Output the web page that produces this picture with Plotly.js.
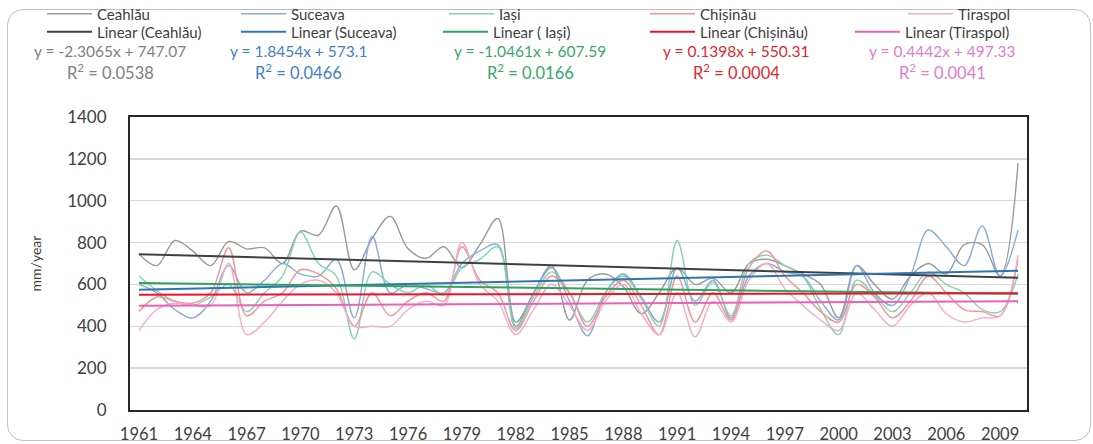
<!DOCTYPE html>
<html>
<head>
<meta charset="utf-8">
<script src="https://cdn.plot.ly/plotly-3.0.1.min.js"></script>
<style>
html,body{margin:0;padding:0;background:#fff;}
#frame{position:absolute;left:7px;top:9px;width:1084px;height:432px;box-sizing:border-box;border:1px solid #bfbfbf;border-radius:16px;}
#chart{position:absolute;left:0;top:0;width:1093px;height:444px;}
</style>
</head>
<body>
<div id="frame"></div>
<div id="chart"></div>
<script>
// ---- data ----
const years = [1961,1962,1963,1964,1965,1966,1967,1968,1969,1970,1971,1972,1973,1974,1975,1976,1977,1978,1979,1980,1981,1982,1983,1984,1985,1986,1987,1988,1989,1990,1991,1992,1993,1994,1995,1996,1997,1998,1999,2000,2001,2002,2003,2004,2005,2006,2007,2008,2009,2010];
const tickYears = [1961,1964,1967,1970,1973,1976,1979,1982,1985,1988,1991,1994,1997,2000,2003,2006,2009];

const ceahlau = [745,690,810,760,690,805,770,775,700,855,835,975,670,820,925,770,725,780,680,790,915,420,560,690,430,620,650,590,460,560,680,600,630,560,700,720,690,650,600,440,690,600,530,640,700,650,790,790,640,1180];
const suceava = [600,560,480,440,520,690,560,620,700,650,640,720,440,830,560,600,580,560,700,760,790,400,560,680,520,355,560,650,540,420,680,520,620,440,640,700,660,640,520,430,690,560,500,640,860,780,690,880,640,860];
const iasi    = [640,570,520,500,540,600,470,560,640,850,700,640,340,660,600,560,600,550,680,720,780,390,540,660,560,420,560,640,530,400,810,500,610,450,700,740,690,640,480,360,620,550,470,560,660,600,560,480,470,650];
const chisinau= [470,540,520,510,560,775,450,520,560,670,650,580,400,560,450,520,560,520,780,620,560,380,520,640,560,400,540,620,500,360,640,420,560,430,680,760,640,560,470,420,600,540,440,520,640,560,480,470,450,720];
const tiraspol= [380,480,510,500,500,700,360,420,520,600,620,560,400,400,400,480,520,500,800,600,520,360,480,600,500,380,520,600,460,360,560,350,520,420,620,700,580,500,430,380,560,480,400,500,560,460,420,440,450,740];

const names   = ["Ceahlău","Suceava","Iași","Chișinău","Tiraspol"];
const trendNames = ["Linear (Ceahlău)","Linear (Suceava)","Linear ( Iași)","Linear (Chișinău)","Linear (Tiraspol)"];
const slopes  = [-2.3065, 1.8454, -1.0461, 0.1398, 0.4442];
const intercepts = [747.07, 573.1, 607.59, 550.31, 497.33];
const r2 = ["0.0538","0.0466","0.0166","0.0004","0.0041"];

// ---- styles ----
const rawColors   = ["#9a9a9a","#86acd8","#86d2b0","#f29494","#f5aacb"];
const trendColors = ["#404040","#2f75b5","#2ea35c","#e8142c","#e862b8"];
const eqColors    = ["#808080","#3f80c6","#38a86a","#e3262f","#e07ccd"];
const eqCenters   = [110, 298, 530, 736, 942];
const rawLegendX  = [42, 236, 444, 645, 903];
const trendLegendX= [42, 236, 438, 645, 850];
const FONT = "Lato, 'Liberation Sans', sans-serif";

const L=130, R=66, T=117, B=34, W=1093, H=444;
const pw = W-L-R, ph = H-T-B;
const px = v => (v-L)/pw;
const py = v => (H-B-v)/ph;

const series = [ceahlau, suceava, iasi, chisinau, tiraspol];
const traces = [];
const legends = {};
const legendBase = {orientation:'h', xanchor:'left', yanchor:'middle',
    font:{family:FONT,size:15,color:'#404040'}, itemwidth:45,
    bgcolor:'rgba(0,0,0,0)', traceorder:'normal', tracegroupgap:0};
const legendKey = n => n === 1 ? 'legend' : 'legend' + n;

series.forEach((s,k)=>{
  const key = legendKey(k+1);
  legends[key] = Object.assign({}, legendBase, {x:px(rawLegendX[k]), y:py(14)});
  traces.push({x: years, y: s, type:'scatter', mode:'lines', name:names[k], legend:key,
    line:{color:rawColors[k], width:1.4, shape:'spline', smoothing:1}});
});
series.forEach((s,k)=>{
  const key = legendKey(k+6);
  legends[key] = Object.assign({}, legendBase, {x:px(trendLegendX[k]), y:py(32)});
  const yAt = i => slopes[k]*i + intercepts[k];
  traces.push({x:[years[0], years[years.length-1]], y:[yAt(1), yAt(years.length)], type:'scatter', mode:'lines',
    name:trendNames[k], legend:key, line:{color:trendColors[k], width:2}});
});

const annotations = [];
for(let k=0;k<5;k++){
  annotations.push({xref:'paper',yref:'paper',x:px(eqCenters[k]),y:py(51),xanchor:'center',yanchor:'middle',showarrow:false,
    text:"y = "+slopes[k].toFixed(4)+"x + "+intercepts[k], font:{family:FONT,size:15.5,color:eqColors[k]}});
  annotations.push({xref:'paper',yref:'paper',x:px(eqCenters[k]),y:py(72),xanchor:'center',yanchor:'middle',showarrow:false,
    text:"R<sup>2</sup> = "+r2[k], font:{family:FONT,size:16.5,color:eqColors[k]}});
}

const layout = Object.assign({
  width:W, height:H,
  margin:{l:L,r:R,t:T,b:B,pad:0,autoexpand:false},
  paper_bgcolor:'rgba(0,0,0,0)', plot_bgcolor:'#fff',
  font:{family:FONT,size:15,color:'#404040'},
  showlegend:true,
  xaxis:{range:[1960.5,2010.5], tickmode:'array', tickvals:tickYears, ticktext:tickYears.map(String),
    showgrid:false, zeroline:false, showline:true, mirror:true, linecolor:'#262626', linewidth:2,
    ticks:'', ticklabelstandoff:8, tickfont:{family:FONT,size:16.5,color:'#404040'}},
  yaxis:{range:[0,1400], dtick:200, tick0:0, showgrid:true, gridcolor:'#d9d9d9', gridwidth:1.5,
    zeroline:false, showline:true, mirror:true, linecolor:'#262626', linewidth:2,
    ticks:'', ticklabelstandoff:18, tickfont:{family:FONT,size:17,color:'#404040'},
    title:{text:'mm/year', standoff:22, font:{family:FONT,size:14,color:'#404040'}}},
  annotations: annotations
}, legends);

Plotly.newPlot('chart', traces, layout, {displayModeBar:false, staticPlot:true});
</script>
</body>
</html>
